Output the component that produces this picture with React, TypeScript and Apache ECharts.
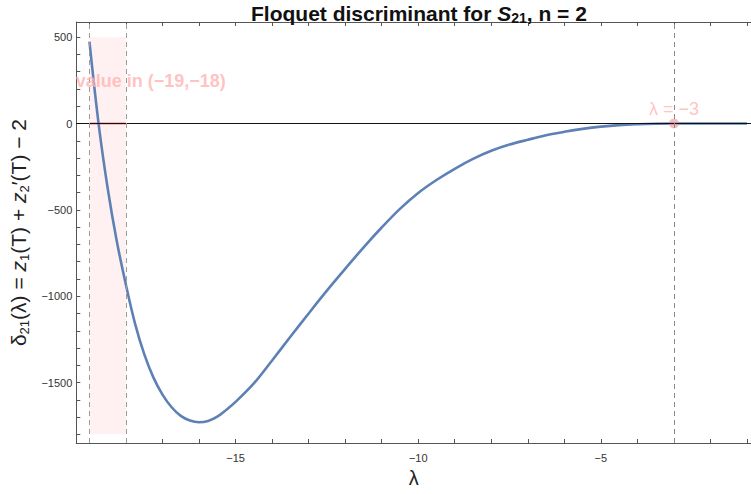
import React, { useEffect, useRef } from "react";
import * as echarts from "echarts";

// Curve samples (λ, δ21(λ))
const lambdaValues = [
  -19.0, -18.75, -18.5, -18.25, -18.0, -17.75, -17.5, -17.25, -17.0, -16.75,
  -16.5, -16.25, -16.0, -15.75, -15.5, -15.25, -15.0, -14.5, -14.0, -13.5,
  -13.0, -12.5, -12.0, -11.5, -11.0, -10.5, -10.0, -9.5, -9.0, -8.5, -8.0,
  -7.5, -7.0, -6.5, -6.0, -5.5, -5.0, -4.5, -4.0, -3.5, -3.0, -2.0, -1.0,
];
const deltaValues = [
  474, 0, -376, -683, -935, -1160, -1335, -1470, -1570, -1643,
  -1693, -1720, -1730, -1722, -1697, -1657, -1612, -1505, -1372, -1235,
  -1100, -968, -842, -718, -602, -494, -402, -327, -262, -205, -158,
  -122, -94, -68, -48, -31, -18, -9, -4, -1, 0, 0, 0,
];

const xTickValues = [-19, -18, -17, -16, -15, -14, -13, -12, -11, -10, -9, -8, -7, -6, -5, -4, -3, -2, -1];
const xLabelValues = [-15, -10, -5];
const yTickValues = [-1800, -1700, -1600, -1500, -1400, -1300, -1200, -1100, -1000, -900, -800, -700, -600, -500, -400, -300, -200, -100, 0, 100, 200, 300, 400, 500];
const yLabelValues = [-1500, -1000, -500, 0, 500];

const intervalBounds = [-19, -18];
const intervalRectTop = 500;
const intervalRectBottom = -1800;
const rootLambda = -3;
const annotationPoint = [-17.32, 247];
const annotationText = "value in (−19,−18)";
const rootLabel = "λ = −3";

const FONT = "'Liberation Sans', Arial, sans-serif";
const fmt = (v: number) => String(v).replace("-", "−");

export default function App() {
  const ref = useRef<HTMLDivElement>(null);
  useEffect(() => {
    if (!ref.current) return;
    const chart = echarts.init(ref.current, null, { renderer: "svg" });
    const curve = lambdaValues.map((l, i) => [l, deltaValues[i]]);
    const axisColor = "#555";
    const option = {
      animation: false,
      textStyle: { fontFamily: FONT },
      title: {
        left: 251,
        top: 1,
        padding: 0,
        text: "Floquet discriminant for {i|S}{s|21}, n = 2",
        textStyle: {
          fontSize: 21,
          fontWeight: "bold",
          color: "#111",
          fontFamily: FONT,
          lineHeight: 24,
          rich: {
            i: { fontSize: 21, fontWeight: "bold", fontStyle: "italic", color: "#111", fontFamily: FONT, lineHeight: 24 },
            s: { fontSize: 14, fontWeight: "bold", color: "#111", fontFamily: FONT, verticalAlign: "bottom" },
          },
        },
      },
      grid: { left: 76, right: 0, top: 22, bottom: 51, containLabel: false },
      xAxis: [
        {
          type: "value",
          min: -19.36,
          max: -0.89,
          position: "bottom",
          axisLine: { show: true, onZero: false, lineStyle: { color: axisColor, width: 1 } },
          axisTick: { show: true, inside: true, length: 4, customValues: xTickValues, lineStyle: { color: axisColor } },
          axisLabel: { customValues: xLabelValues, formatter: fmt, fontSize: 11, color: "#333", margin: 9, fontFamily: FONT },
          splitLine: { show: false },
          name: "λ",
          nameLocation: "middle",
          nameGap: 24,
          nameTextStyle: { fontSize: 20, color: "#222", fontFamily: FONT },
        },
        {
          type: "value",
          min: -19.36,
          max: -0.89,
          position: "top",
          axisLine: { show: true, onZero: false, lineStyle: { color: axisColor, width: 1 } },
          axisTick: { show: true, inside: true, length: 4, customValues: xTickValues, lineStyle: { color: axisColor } },
          axisLabel: { show: false },
          splitLine: { show: false },
        },
      ],
      yAxis: {
        type: "value",
        min: -1850,
        max: 588,
        axisLine: { show: true, onZero: false, lineStyle: { color: axisColor, width: 1 } },
        axisTick: { show: true, inside: true, length: 4, customValues: yTickValues, lineStyle: { color: axisColor } },
        axisLabel: { customValues: yLabelValues, formatter: fmt, fontSize: 11, color: "#333", margin: 4, fontFamily: FONT },
        splitLine: { show: false },
        name: "{d|δ}{s|21}{n|(λ) = }{i|z}{s|1}{n|(T) + }{i|z}{s|2}{n|′(T) − 2}",
        nameLocation: "middle",
        nameRotate: 90,
        nameGap: 18,
        nameTextStyle: {
          rich: {
            d: { fontSize: 21, color: "#222", fontFamily: FONT, lineHeight: 24 },
            n: { fontSize: 21, color: "#222", fontFamily: FONT, lineHeight: 24 },
            i: { fontSize: 21, color: "#222", fontStyle: "italic", fontFamily: FONT, lineHeight: 24 },
            s: { fontSize: 13, color: "#222", fontFamily: FONT, verticalAlign: "bottom" },
          },
        },
      },
      series: [
        {
          type: "line",
          data: [],
          z: 1,
          markArea: {
            silent: true,
            itemStyle: { color: "rgba(255,0,0,0.055)" },
            data: [[{ xAxis: intervalBounds[0], yAxis: intervalRectTop }, { xAxis: intervalBounds[1], yAxis: intervalRectBottom }]],
          },
          markLine: {
            silent: true,
            symbol: ["none", "none"],
            label: { show: false },
            data: [
              { yAxis: 0, lineStyle: { color: "#111", width: 1, type: "solid" } },
              { xAxis: intervalBounds[0], lineStyle: { color: "#9a9a9a", width: 1, type: [5, 4] } },
              { xAxis: intervalBounds[1], lineStyle: { color: "#9a9a9a", width: 1, type: [5, 4] } },
              { xAxis: rootLambda, lineStyle: { color: "#8a8a8a", width: 1, type: [5, 4] } },
            ],
          },
        },
        {
          type: "line",
          data: intervalBounds.map((l) => [l, 0]),
          z: 2,
          showSymbol: false,
          lineStyle: { color: "rgba(235,90,90,0.75)", width: 2 },
        },
        {
          type: "line",
          data: curve,
          z: 3,
          smooth: 0.35,
          showSymbol: false,
          lineStyle: { color: "#5E81B5", width: 2.6 },
        },
        {
          type: "scatter",
          data: [[rootLambda, 0]],
          z: 4,
          symbolSize: 10,
          itemStyle: { color: "rgba(240,150,160,0.8)", borderWidth: 0 },
          label: {
            show: true,
            position: "top",
            distance: 1,
            formatter: () => rootLabel,
            fontSize: 18,
            color: "#FFB4B4",
            fontFamily: FONT,
          },
        },
        {
          type: "scatter",
          data: [annotationPoint],
          z: 5,
          symbolSize: 0,
          label: {
            show: true,
            position: "inside",
            formatter: () => annotationText,
            fontSize: 18,
            fontWeight: "bold",
            color: "#FFB3B3",
            fontFamily: FONT,
          },
        },
      ],
    };
    chart.setOption(option as any);
    return () => chart.dispose();
  }, []);
  return <div ref={ref} style={{ position: "absolute", left: 0, top: 0, width: 751, height: 494, background: "#fff" }} />;
}
